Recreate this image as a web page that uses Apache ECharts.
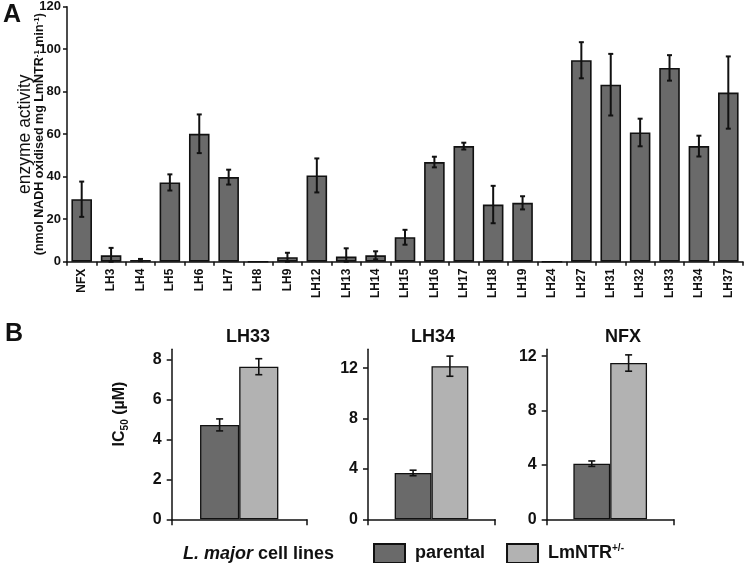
<!DOCTYPE html>
<html>
<head>
<meta charset="utf-8">
<script src="https://cdn.jsdelivr.net/npm/echarts@6/dist/echarts.min.js"></script>
<style>html,body{margin:0;padding:0;background:#fff;}#c{width:745px;height:563px;}</style>
</head>
<body>
<div id="c"></div>
<script>
// ---- Panel A data ----
var categories = ['NFX','LH3','LH4','LH5','LH6','LH7','LH8','LH9','LH12','LH13','LH14','LH15','LH16','LH17','LH18','LH19','LH24','LH27','LH31','LH32','LH33','LH34','LH37'];
var activity    = [29.4, 3.0, 0.8, 37.3, 60.2, 39.8, 0, 2.1, 40.6, 2.4, 3.0, 11.5, 46.9, 54.4, 26.9, 27.7, 0, 94.8, 83.3, 60.8, 91.2, 54.4, 79.6];
var activityErr = [8.3, 3.5, 0.5, 3.8, 9.1, 3.5, null, 2.1, 8.0, 3.9, 1.9, 3.5, 2.5, 1.6, 8.8, 3.1, null, 8.5, 14.5, 6.5, 6.0, 4.9, 17.0];
var activityTicks = [0, 20, 40, 60, 80, 100, 120];

// ---- Panel B data ----
var panelTitles = ['LH33', 'LH34', 'NFX'];
var parental    = [4.72, 3.68, 4.09];
var parentalErr = [0.30, 0.22, 0.20];
var lmntr       = [7.63, 12.16, 11.49];
var lmntrErr    = [0.40, 0.80, 0.60];
var panelMax    = [8.5, 13.5, 12.5];
var panelTicks  = [[0, 2, 4, 6, 8], [0, 4, 8, 12], [0, 4, 8, 12]];

var FONT = "'Liberation Sans', Arial, sans-serif";
var DARK = '#6a6a6a', LIGHT = '#b2b2b2', INK = '#111';

var chart = echarts.init(document.getElementById('c'), null, {renderer: 'canvas'});

function errRenderer(offsetFrac, capHalf, lw) {
  return function (params, api) {
    var e = api.value(2);
    if (e === null || e === undefined || isNaN(e)) return;
    var idx = api.value(0), v = api.value(1);
    var band = api.size([1, 0])[0];
    var dx = band * offsetFrac;
    var top = api.coord([idx, v + e]);
    var bot = api.coord([idx, Math.max(0, v - e)]);
    var x = top[0] + dx;
    var st = {stroke: INK, lineWidth: lw};
    return {
      type: 'group',
      children: [
        {type: 'line', shape: {x1: x, y1: top[1], x2: x, y2: bot[1]}, style: st},
        {type: 'line', shape: {x1: x - capHalf, y1: top[1], x2: x + capHalf, y2: top[1]}, style: st},
        {type: 'line', shape: {x1: x - capHalf, y1: bot[1], x2: x + capHalf, y2: bot[1]}, style: st}
      ]
    };
  };
}

var grids = [
  {left: 67, top: 6.7, width: 676, height: 255, outerBoundsMode: 'none', containLabel: false},
  {left: 171.7, top: 349.3, width: 135, height: 170, outerBoundsMode: 'none', containLabel: false},
  {left: 368, top: 349.3, width: 127, height: 170, outerBoundsMode: 'none', containLabel: false},
  {left: 546.7, top: 349.3, width: 127, height: 170, outerBoundsMode: 'none', containLabel: false}
];

var xAxes = [{
  type: 'category', gridIndex: 0, data: categories,
  axisLine: {lineStyle: {color: INK, width: 1.5}},
  axisTick: {show: true, length: 4, lineStyle: {color: INK, width: 1.5}},
  axisLabel: {rotate: 90, fontFamily: FONT, fontWeight: 'bold', fontSize: 12, color: INK, margin: 7}
}];
var yAxes = [{
  type: 'value', gridIndex: 0, min: 0, max: 120, interval: 20,
  name: '{a|enzyme activity}\n{b|(nmol NADH oxidised mg LmNTR}{s|-1}{b| min}{s|-1}{b|)}',
  nameLocation: 'middle', nameGap: 21, nameRotate: 90, nameMoveOverlap: false,
  nameTextStyle: {
    fontFamily: FONT, color: INK, align: 'center',
    rich: {
      a: {fontFamily: FONT, fontSize: 17.5, color: INK, lineHeight: 15},
      b: {fontFamily: FONT, fontSize: 12.5, fontWeight: 'bold', color: INK, lineHeight: 13},
      s: {fontFamily: FONT, fontSize: 8, fontWeight: 'bold', color: INK, verticalAlign: 'top', lineHeight: 13}
    }
  },
  splitLine: {show: false},
  axisLine: {show: true, lineStyle: {color: INK, width: 1.5}},
  axisTick: {show: true, length: 4, lineStyle: {color: INK, width: 1.5}, customValues: activityTicks},
  axisLabel: {fontFamily: FONT, fontWeight: 'bold', fontSize: 13, color: INK, margin: 6, customValues: activityTicks}
}];

for (var i = 0; i < 3; i++) {
  xAxes.push({
    type: 'category', gridIndex: i + 1, data: [panelTitles[i]],
    axisLine: {lineStyle: {color: INK, width: 1.5}},
    axisTick: {show: true, length: 6, lineStyle: {color: INK, width: 1.5}},
    axisLabel: {show: false}
  });
  yAxes.push({
    type: 'value', gridIndex: i + 1, min: 0, max: panelMax[i],
    splitLine: {show: false},
    axisLine: {show: true, lineStyle: {color: INK, width: 1.5}},
    axisTick: {show: true, length: 5, lineStyle: {color: INK, width: 1.5}, customValues: panelTicks[i]},
    axisLabel: {fontFamily: FONT, fontWeight: 'bold', fontSize: 16, color: INK, margin: 10, customValues: panelTicks[i]}
  });
}

var series = [
  {
    type: 'bar', name: 'activity', xAxisIndex: 0, yAxisIndex: 0,
    data: activity, barCategoryGap: '30%',
    itemStyle: {color: DARK, borderColor: INK, borderWidth: 1.6},
    silent: true
  },
  {
    type: 'custom', xAxisIndex: 0, yAxisIndex: 0, silent: true, z: 5,
    renderItem: errRenderer(0, 2.5, 2),
    encode: {x: 0, y: 1},
    data: activity.map(function (v, k) { return [k, v, activityErr[k]]; })
  }
];

for (var j = 0; j < 3; j++) {
  series.push({
    type: 'bar', name: 'parental', xAxisIndex: j + 1, yAxisIndex: j + 1,
    data: [parental[j]], barGap: '0%', barCategoryGap: '42%',
    itemStyle: {color: DARK, borderColor: INK, borderWidth: 1.3}, silent: true
  });
  series.push({
    type: 'bar', name: 'LmNTR+/-', xAxisIndex: j + 1, yAxisIndex: j + 1,
    data: [lmntr[j]], barGap: '0%', barCategoryGap: '42%',
    itemStyle: {color: LIGHT, borderColor: INK, borderWidth: 1.3}, silent: true
  });
  series.push({
    type: 'custom', xAxisIndex: j + 1, yAxisIndex: j + 1, silent: true, z: 5,
    renderItem: errRenderer(-0.145, 3.5, 1.6), encode: {x: 0, y: 1},
    data: [[0, parental[j], parentalErr[j]]]
  });
  series.push({
    type: 'custom', xAxisIndex: j + 1, yAxisIndex: j + 1, silent: true, z: 5,
    renderItem: errRenderer(0.145, 3.5, 1.6), encode: {x: 0, y: 1},
    data: [[0, lmntr[j], lmntrErr[j]]]
  });
}

var titleCenters = [243, 428, 618];
var titles = [
  {text: 'A', left: -2, top: -2, textStyle: {fontFamily: FONT, fontWeight: 'bold', fontSize: 25, color: INK}},
  {text: 'B', left: 0, top: 317, textStyle: {fontFamily: FONT, fontWeight: 'bold', fontSize: 25, color: INK}},
  {text: '{i|L. major}{n| cell lines}', left: 178, top: 540,
   textStyle: {rich: {
     i: {fontFamily: FONT, fontWeight: 'bold', fontStyle: 'italic', fontSize: 18, color: INK},
     n: {fontFamily: FONT, fontWeight: 'bold', fontSize: 18, color: INK}
   }}}
];
for (var t = 0; t < 3; t++) {
  titles.push({text: panelTitles[t], left: titleCenters[t], top: 323, textAlign: 'center',
    textStyle: {fontFamily: FONT, fontWeight: 'bold', fontSize: 18, color: INK}});
}

chart.setOption({
  animation: false,
  backgroundColor: '#fff',
  title: titles,
  grid: grids,
  xAxis: xAxes,
  yAxis: yAxes,
  legend: {
    data: ['parental', 'LmNTR+/-'],
    left: 368, top: 538, icon: 'rect', itemWidth: 31, itemHeight: 19, itemGap: 21,
    itemStyle: {borderColor: INK, borderWidth: 2},
    formatter: function (n) { return n === 'parental' ? '{n|parental}' : '{n|LmNTR}{s|+/-}'; },
    textStyle: {
      padding: [0, 0, 0, 5],
      rich: {
        n: {fontFamily: FONT, fontWeight: 'bold', fontSize: 18, color: INK, lineHeight: 20},
        s: {fontFamily: FONT, fontWeight: 'bold', fontSize: 10, color: INK, verticalAlign: 'top', lineHeight: 20}
      }
    }
  },
  graphic: [{
    type: 'text', x: 120, y: 414, rotation: Math.PI / 2,
    style: {
      text: '{n|IC}{b|50}{n| (µM)}', align: 'center', verticalAlign: 'middle',
      rich: {
        n: {fontFamily: FONT, fontWeight: 'bold', fontSize: 16, fill: INK, lineHeight: 20},
        b: {fontFamily: FONT, fontWeight: 'bold', fontSize: 10, fill: INK, verticalAlign: 'bottom', lineHeight: 20}
      }
    }
  }],
  series: series
});
</script>
</body>
</html>
